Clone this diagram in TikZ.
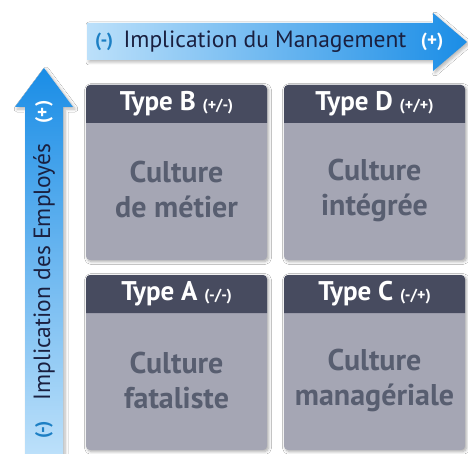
\documentclass[tikz,border=0pt]{standalone}
\usepackage{fontspec}
\setmainfont{PT Sans}
\usetikzlibrary{shadows.blur}
\definecolor{hdr}{HTML}{474B5F}
\definecolor{bodyc}{HTML}{A5A6B4}
\definecolor{bodytxt}{HTML}{585E70}
\definecolor{arrlight}{HTML}{BCE0FA}
\definecolor{arrdark}{HTML}{1A8DE6}
\definecolor{minusc}{HTML}{1C7FC4}
\definecolor{titletxt}{HTML}{1A2040}
\tikzset{
  boxshadow/.style={blur shadow={shadow xshift=1.5pt, shadow yshift=-1.5pt, shadow blur steps=6, shadow opacity=35, shadow blur radius=3pt}},
  arrowshadow/.style={blur shadow={shadow xshift=2pt, shadow yshift=-2pt, shadow blur steps=6, shadow opacity=30, shadow blur radius=3pt}},
  hdrtxt/.style={text=white, font=\fontsize{27}{29}\selectfont\bfseries, inner sep=0pt},
  celltxt/.style={text=bodytxt, font=\fontsize{30}{35}\selectfont\bfseries, align=center, inner sep=0pt},
  axistxt/.style={text=titletxt, font=\fontsize{23.5}{25}\selectfont, inner sep=0pt},
  signtxt/.style={font=\fontsize{19}{20}\selectfont\bfseries, inner sep=0pt},
}
\newcommand{\quadbox}[6]{%
  % #1 name, #2 x, #3 y (top), #4 type, #5 sign, #6 body text
  \fill[bodyc, rounded corners=4pt, boxshadow] (#2,#3) rectangle ++(181,175);
  \fill[hdr] (#2,#3+38) [rounded corners=4pt] -- (#2,#3) -- (#2+181,#3) [sharp corners] -- (#2+181,#3+38) -- cycle;
  \node[hdrtxt] (#1h) at (#2+90.5,#3+19) {#4 {\fontsize{16}{17}\selectfont #5}};
  \node[celltxt] (#1b) at (#2+90.5,#3+105) {#6};
}
\begin{document}
\begin{tikzpicture}[x=1pt,y=-1pt]
\useasboundingbox (0,0) rectangle (468,454);
\fill[white] (0,0) rectangle (468,454);
% horizontal arrow
\shade[left color=arrlight, right color=arrdark, arrowshadow]
  (87,23) -- (433,23) -- (433,13) -- (467,42) -- (433,71) -- (433,60) -- (87,60) -- cycle;
% vertical arrow
\shade[bottom color=arrlight, top color=arrdark, arrowshadow]
  (25,454) -- (25,107) -- (15,107) -- (44,68) -- (73,107) -- (63,107) -- (63,454) -- cycle;
\node[axistxt] (htitle) at (265,42) {Implication du Management};
\node[signtxt, text=minusc] (hminus) at (104,42) {(-)};
\node[signtxt, text=white] (hplus) at (432,42) {(+)};
\node[axistxt, rotate=90] (vtitle) at (44,272) {Implication des Employés};
\node[signtxt, text=white, rotate=90] (vplus) at (44,112) {(+)};
\node[signtxt, text=minusc, rotate=90] (vminus) at (44,430) {(-)};
\quadbox{B}{86}{85}{Type B}{(+/-)}{Culture\\de métier}
\quadbox{D}{284}{85}{Type D}{(+/+)}{Culture\\intégrée}
\quadbox{A}{86}{275}{Type A}{(-/-)}{Culture\\fataliste}
\quadbox{C}{284}{275}{Type C}{(-/+)}{Culture\\managériale}
\end{tikzpicture}
\end{document}
